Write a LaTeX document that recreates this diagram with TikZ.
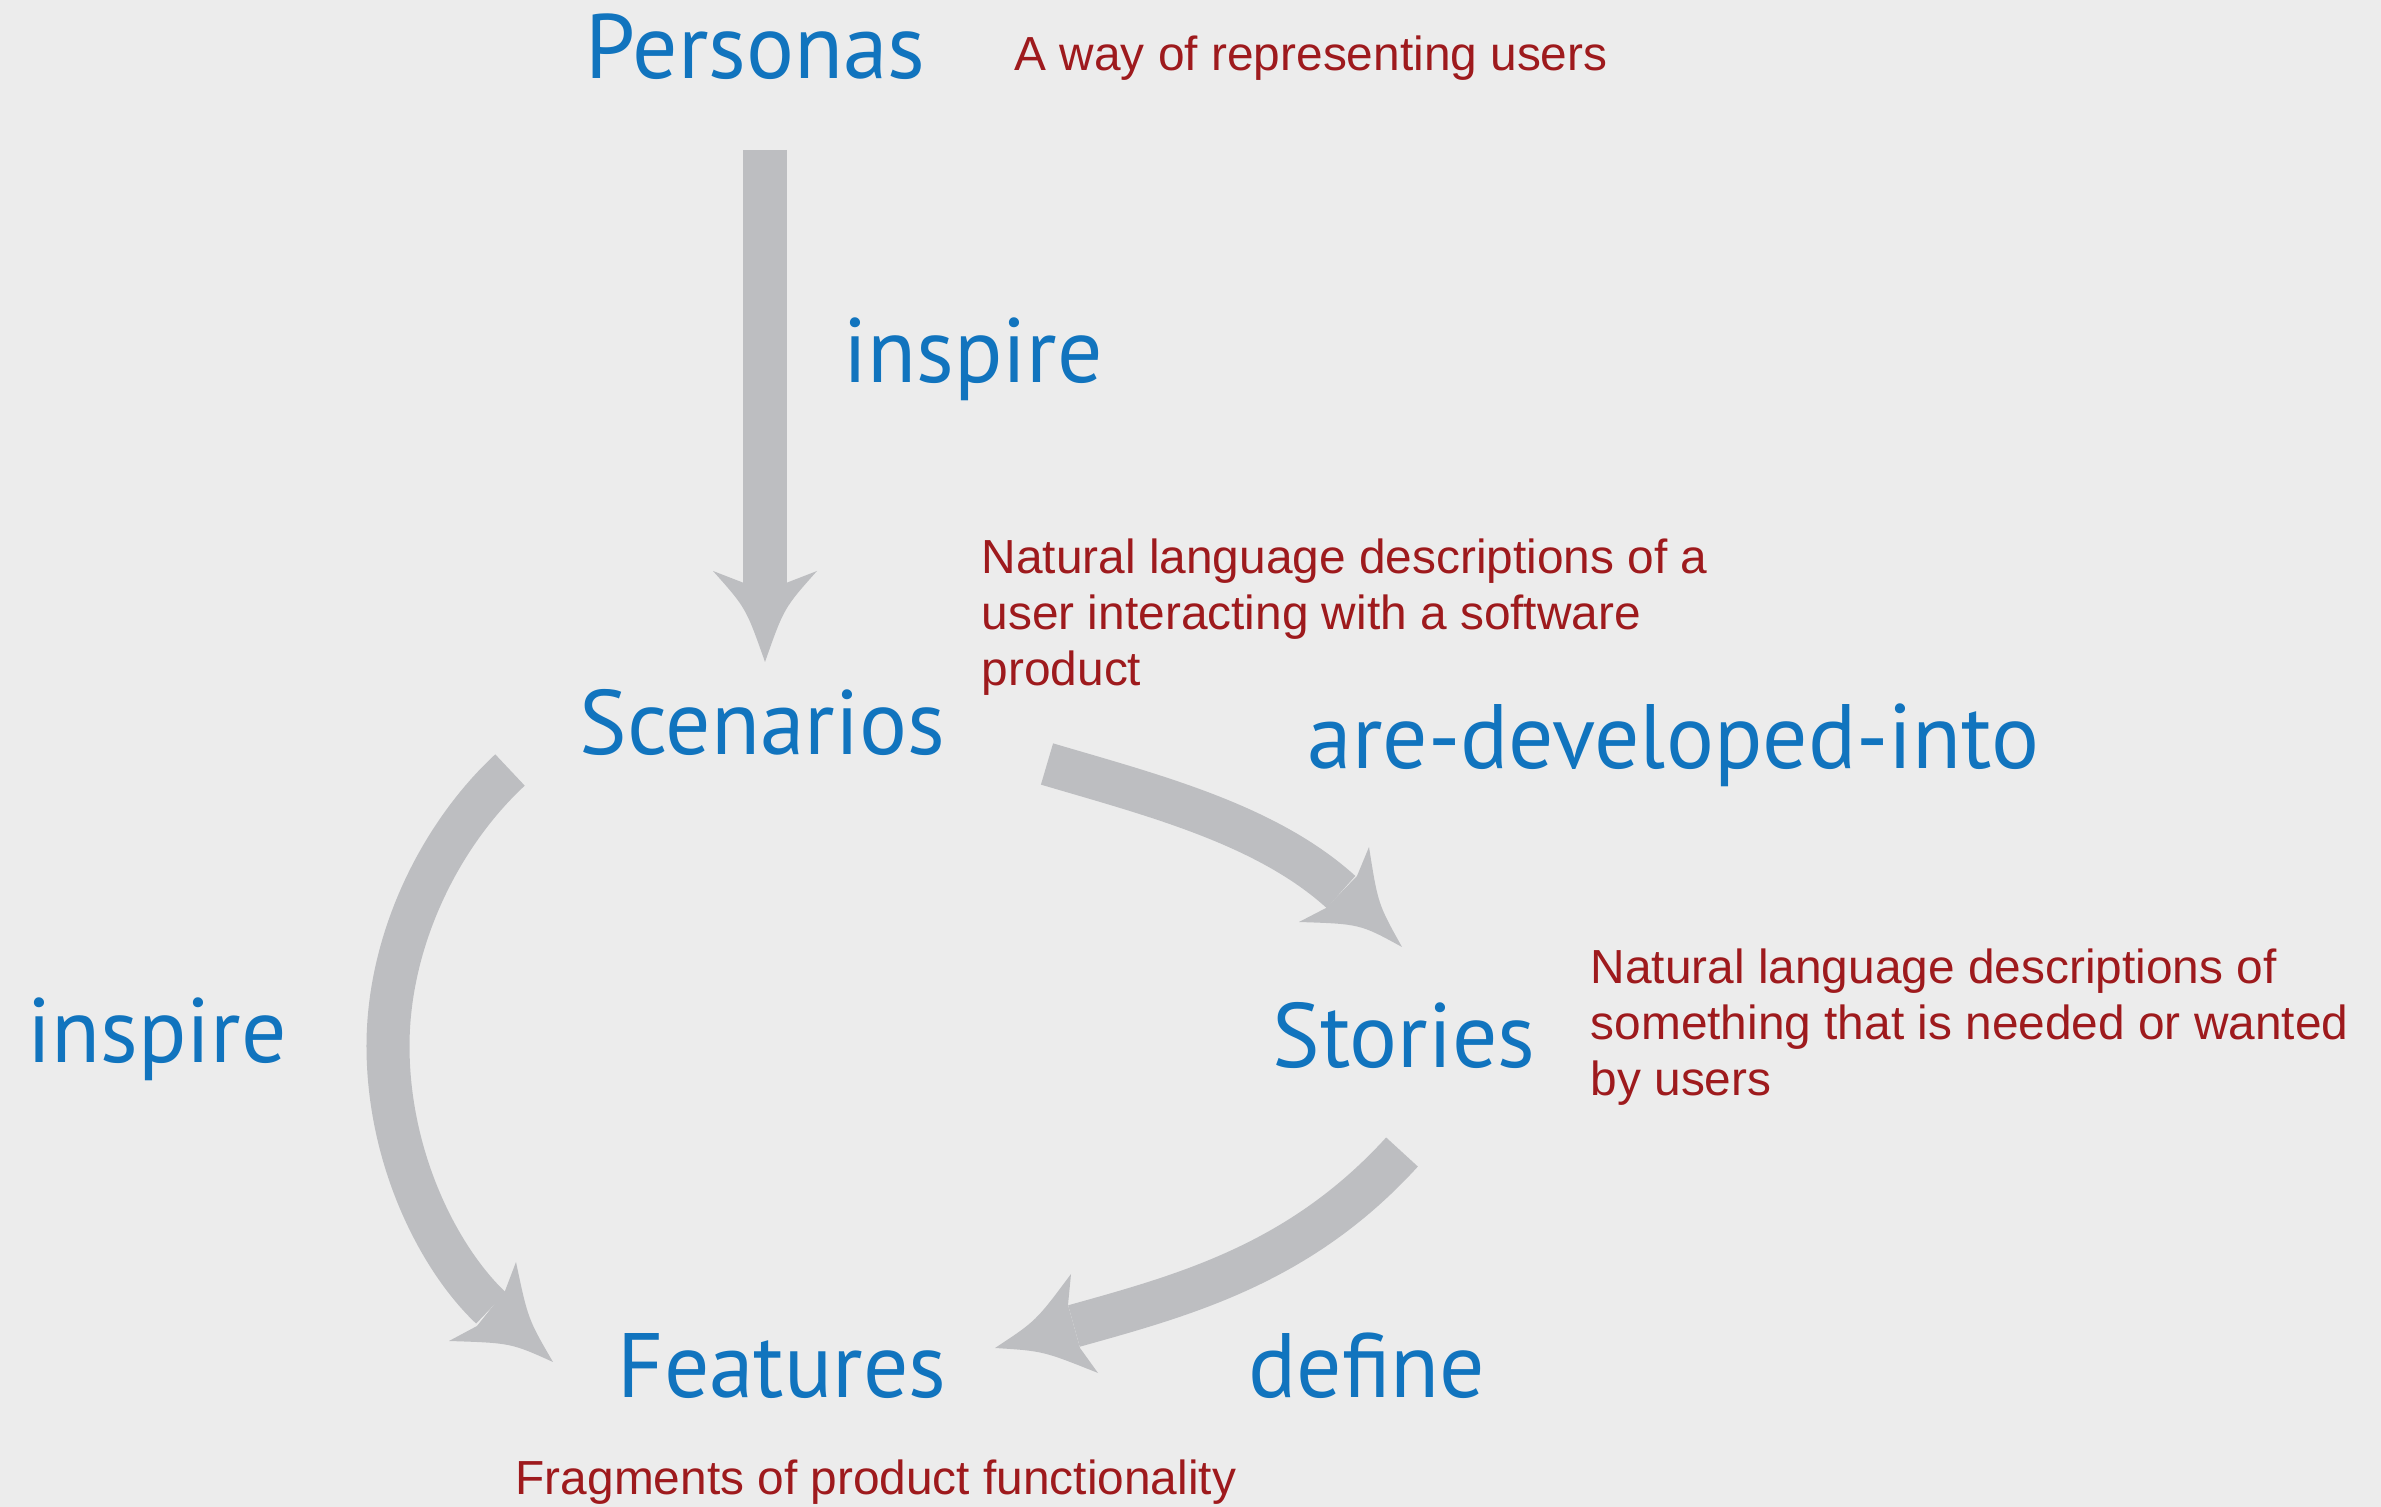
\documentclass[tikz,border=0pt]{standalone}
\usepackage{fontspec}
\newfontfamily\bluefont[FakeStretch=0.98]{PT Sans}
\newfontfamily\redfont{Liberation Sans}
\definecolor{bgcol}{HTML}{ECECEC}
\definecolor{arrowgray}{HTML}{BDBEC1}
\definecolor{conceptblue}{HTML}{1174BE}
\definecolor{notered}{HTML}{9E1A1D}
\begin{document}
\begin{tikzpicture}[x=0.01cm,y=-0.01cm,
  concept/.style={font=\bluefont\fontsize{26}{30}\selectfont, text=conceptblue, anchor=base west, inner sep=0pt},
  note/.style={font=\redfont\fontsize{13.6}{16}\selectfont, text=notered, anchor=base west, inner sep=0pt},
  shaft/.style={draw=arrowgray, line width=0.43cm},
  head/.style={fill=arrowgray}]
\fill[bgcol] (0,0) rectangle (2381,1507);
\useasboundingbox (0,0) rectangle (2381,1507);

% concepts
\node[concept] (personas) at (585,79) {Personas};
\node[concept] (scenarios) at (579,755) {Scenarios};
\node[concept] (stories) at (1272,1068) {Stories};
\node[concept] (features) at (617,1397) {Features};

% relations
\node[concept] (inspire1) at (843,383) {inspire};
\node[concept] (developed) at (1307,769) {are-developed-into};
\node[concept] (inspire2) at (27,1063) {inspire};
\node[concept] (define) at (1248,1397) {define};

% notes
\node[note] (pnote) at (1014,71) {A way of representing users};
\node[note] (sc1) at (981,574) {Natural language descriptions of a};
\node[note] (sc2) at (981,630) {user interacting with a software};
\node[note] (sc3) at (981,686) {product};
\node[note] (st1) at (1590,984) {Natural language descriptions of};
\node[note] (st2) at (1590,1040) {something that is needed or wanted};
\node[note] (st3) at (1590,1096) {by users};
\node[note] (fnote) at (515,1494) {Fragments of product functionality};

% arrow coordinates
\coordinate (a1s) at (765,150);
\coordinate (a1e) at (765,590);
\coordinate (a2s) at (1047,764);
\coordinate (a2e) at (1341,892);
\coordinate (a3s) at (510,770);
\coordinate (a3m) at (388,1046);
\coordinate (a3e) at (491,1308);
\coordinate (a4s) at (1402,1152);
\coordinate (a4e) at (1074,1326);

% Personas -> Scenarios
\draw[shaft] (a1s) -- (a1e);
\fill[head] (713,571) .. controls (746,608) .. (765,662) .. controls (784,608) .. (817,571) -- (786,583) -- (744,583) -- cycle;

% Scenarios -> Stories
\draw[shaft] (a2s) .. controls (1152,795) and (1266,824) .. (a2e);
\fill[head] (1369,847) .. controls (1378,904) .. (1402,947) .. controls (1360,924) .. (1299,922) -- (1326,908) -- (1357,876) -- cycle;

% Scenarios -> Features
\draw[shaft] (a3s) .. controls (440,835) and (388,940) .. (a3m) .. controls (388,1160) and (440,1260) .. (a3e);
\fill[head] (516,1262) .. controls (528,1319) .. (553,1362) .. controls (511,1343) .. (449,1341) -- (477,1326) -- (505,1291) -- cycle;

% Stories -> Features
\draw[shaft] (a4s) .. controls (1300,1264) and (1185,1295) .. (a4e);
\fill[head] (1071,1274) .. controls (1036,1321) .. (995,1348) .. controls (1043,1351) .. (1098,1373) -- (1080,1348) -- (1068,1305) -- cycle;
\end{tikzpicture}
\end{document}
